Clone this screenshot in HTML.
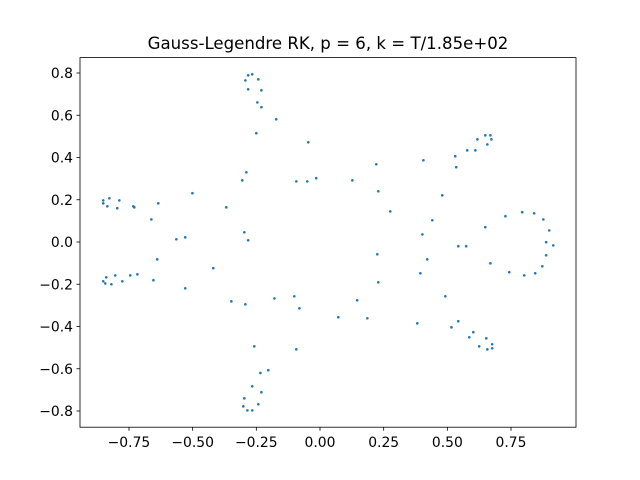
<!DOCTYPE html>
<html><head><meta charset="utf-8"><style>
body{margin:0;background:#fff}
svg{display:block}
text{font-family:"DejaVu Sans","Liberation Sans",sans-serif;fill:#000}
</style></head><body>
<svg id="chart" width="640" height="480" viewBox="0 0 640 480" xmlns="http://www.w3.org/2000/svg">
<rect width="640" height="480" fill="#fff"/>
<text x="328" y="49" text-anchor="middle" font-size="16.6">Gauss-Legendre RK, p = 6, k = T/1.85e+02</text>
<g id="pts"></g>
<g id="xt"></g>
<g id="yt"></g>
<rect x="80" y="57.6" width="496" height="369.6" fill="none" stroke="#000" stroke-width="0.8"/>
</svg>
<script>
const xs=[-0.851,-0.851,-0.827,-0.835,-0.788,-0.796,-0.733,-0.729,-0.635,-0.662,-0.501,-0.289,-0.305,-0.093,-0.050,-0.015,-0.368,-0.564,-0.529,-0.297,-0.282,-0.639,-0.419,-0.851,-0.843,-0.839,-0.819,-0.804,-0.776,-0.745,-0.717,-0.654,-0.529,-0.348,-0.293,-0.179,-0.101,-0.081,
0.649,0.669,0.618,0.673,0.657,0.578,0.610,0.531,0.535,0.221,0.406,0.127,0.229,0.480,0.276,0.441,0.402,0.649,0.728,0.794,0.841,0.877,0.900,0.888,0.916,0.888,0.873,0.845,0.802,0.743,0.669,0.543,0.574,0.225,0.421,0.394,0.229,0.146,0.492,0.072,0.186,0.382,0.543,0.516,0.602,0.586,0.653,0.625,0.676,0.657,0.676,
-0.282,-0.266,-0.293,-0.242,-0.282,-0.230,-0.246,-0.230,-0.172,-0.250,-0.046,
-0.258,-0.093,-0.203,-0.234,-0.266,-0.230,-0.297,-0.301,-0.242,-0.285,-0.266];
const ys=[0.197,0.183,0.207,0.169,0.197,0.160,0.169,0.164,0.183,0.107,0.231,0.330,0.292,0.287,0.287,0.302,0.164,0.013,0.022,0.046,0.008,-0.082,-0.124,-0.186,-0.196,-0.167,-0.200,-0.158,-0.186,-0.158,-0.153,-0.181,-0.219,-0.281,-0.295,-0.267,-0.257,-0.314,
0.505,0.505,0.486,0.486,0.462,0.434,0.434,0.406,0.354,0.368,0.387,0.292,0.240,0.221,0.145,0.103,0.036,0.070,0.122,0.141,0.136,0.107,0.055,-0.001,-0.016,-0.063,-0.115,-0.148,-0.158,-0.143,-0.101,-0.020,-0.020,-0.058,-0.082,-0.148,-0.191,-0.276,-0.257,-0.356,-0.361,-0.385,-0.375,-0.404,-0.427,-0.451,-0.456,-0.494,-0.484,-0.508,-0.503,
0.789,0.794,0.765,0.770,0.723,0.718,0.661,0.638,0.581,0.515,0.472,
-0.494,-0.508,-0.607,-0.620,-0.683,-0.711,-0.740,-0.778,-0.768,-0.797,-0.797];
const xTicks=[-0.75,-0.5,-0.25,0,0.25,0.5,0.75];
const xTickLabels=["\u22120.75","\u22120.50","\u22120.25","0.00","0.25","0.50","0.75"];
const yTicks=[-0.8,-0.6,-0.4,-0.2,0,0.2,0.4,0.6,0.8];
const yTickLabels=["\u22120.8","\u22120.6","\u22120.4","\u22120.2","0.0","0.2","0.4","0.6","0.8"];
const NS="http://www.w3.org/2000/svg";
const X=v=>320+v*254.7;
const Y=v=>242-v*211.25;
const pts=document.getElementById('pts');
for(let i=0;i<xs.length;i++){
  const c=document.createElementNS(NS,'circle');
  c.setAttribute('cx',X(xs[i]));c.setAttribute('cy',Y(ys[i]));c.setAttribute('r',1.3);c.setAttribute('fill','#1f77b4');
  
  
  pts.appendChild(c);
}
const xt=document.getElementById('xt');
xTicks.forEach((v,i)=>{
  const l=document.createElementNS(NS,'line');
  l.setAttribute('x1',X(v));l.setAttribute('x2',X(v));l.setAttribute('y1',427.2);l.setAttribute('y2',430.7);l.setAttribute('stroke','#000');l.setAttribute('stroke-width',0.8);
  
  
  xt.appendChild(l);
  const t=document.createElementNS(NS,'text');
  t.setAttribute('x',X(v));t.setAttribute('y',447);t.setAttribute('text-anchor','middle');t.setAttribute('font-size','13.9');
  t.textContent=xTickLabels[i];
  
  
  xt.appendChild(t);
});
const yt=document.getElementById('yt');
yTicks.forEach((v,i)=>{
  const l=document.createElementNS(NS,'line');
  l.setAttribute('x1',76.5);l.setAttribute('x2',80);l.setAttribute('y1',Y(v));l.setAttribute('y2',Y(v));l.setAttribute('stroke','#000');l.setAttribute('stroke-width',0.8);
  
  
  yt.appendChild(l);
  const t=document.createElementNS(NS,'text');
  t.setAttribute('x',73);t.setAttribute('y',Y(v)+5);t.setAttribute('text-anchor','end');t.setAttribute('font-size','13.9');
  t.textContent=yTickLabels[i];
  
  
  yt.appendChild(t);
});
</script>
</body></html>
